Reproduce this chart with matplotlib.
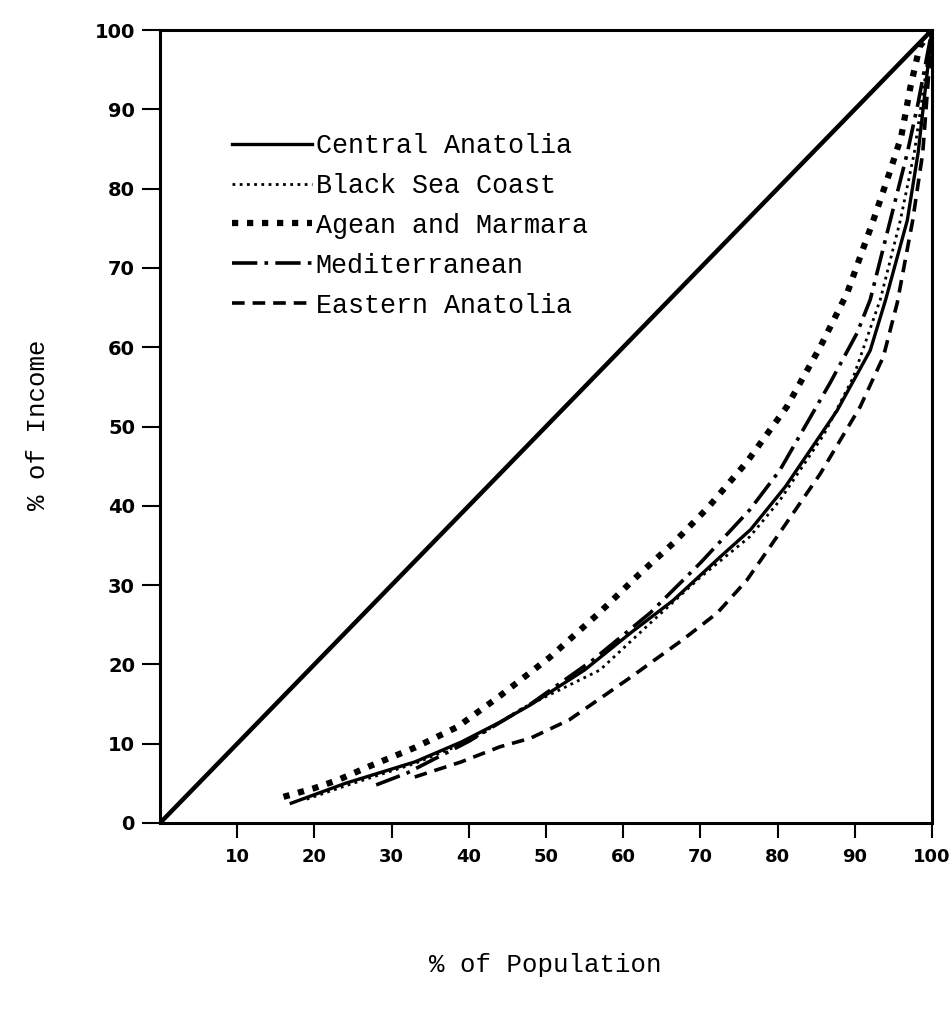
import matplotlib
matplotlib.use("Agg")
import matplotlib.pyplot as plt

# ---- data ----
equality_x = [0, 100]
equality_y = [0, 100]

central_x = [17, 24, 33, 39, 44, 48, 55, 61, 66.5, 72.5, 76.5, 81, 87.7, 92, 94, 96.8, 98.2, 100]
central_y = [2.5, 5, 7.7, 10.2, 12.7, 14.9, 19.3, 24, 28.1, 33.5, 37, 42.4, 52, 59.6, 66, 76, 84.5, 100]

blacksea_x = [19, 25, 33, 40, 47, 57, 63.5, 70, 76.4, 80.3, 86, 89.8, 93.3, 95.9, 97.7, 100]
blacksea_y = [3, 5, 7.5, 10.3, 14.5, 19.3, 25.2, 31, 36.1, 40.7, 49, 56.2, 66, 76, 84.5, 100]

agean_x = [16, 20, 23, 27, 33, 38.5, 44, 50.5, 57, 62, 66.5, 71, 76, 81.2, 85.5, 89, 92.4, 94.6, 96, 97.2, 98.4, 100]
agean_y = [3.3, 4.4, 5.4, 7.1, 9.5, 12.1, 16, 20.9, 26.6, 31.3, 35.3, 39.8, 45.5, 52.5, 60, 66.8, 76, 82.3, 86.5, 92.8, 97.9, 100]

medit_x = [28, 32, 40, 48, 56, 63.5, 70, 76.4, 80.3, 86.8, 90.3, 92, 94.6, 96.8, 98.2, 100]
medit_y = [4.8, 6.3, 10.3, 15, 20.5, 26.5, 32.8, 39.5, 44.5, 55.5, 61.8, 66, 76, 84.5, 90.8, 100]

eastern_x = [33, 39, 44, 48, 53, 61, 67.7, 72.2, 76, 79, 85.5, 90.7, 93.7, 95.5, 97.5, 98.8, 100]
eastern_y = [5.8, 7.7, 9.6, 10.7, 13, 18.4, 23.1, 26.5, 30.6, 34.8, 44, 52.5, 58.8, 65.6, 76, 84.5, 100]

labels = ["Central Anatolia", "Black Sea Coast", "Agean and Marmara", "Mediterranean", "Eastern Anatolia"]
x_ticks = [10, 20, 30, 40, 50, 60, 70, 80, 90, 100]
y_ticks = [0, 10, 20, 30, 40, 50, 60, 70, 80, 90, 100]

# ---- figure ----
fig = plt.figure(figsize=(9.49, 10.16), dpi=100)
ax = fig.add_axes([160/949, 1 - 823/1016, (932-160)/949, (823-30)/1016])

ax.plot(equality_x, equality_y, color="black", lw=3.2, solid_capstyle="round")
ax.plot(central_x, central_y, color="black", lw=2.4, label=labels[0])
ax.plot(blacksea_x, blacksea_y, color="black", lw=2.0, linestyle=(0, (1, 1.6)), label=labels[1])
ax.plot(agean_x, agean_y, color="black", lw=4.5, linestyle=(0, (1.0, 1.4)), label=labels[2])
ax.plot(medit_x, medit_y, color="black", lw=2.6, linestyle=(0, (7, 2, 1, 2)), label=labels[3])
ax.plot(eastern_x, eastern_y, color="black", lw=2.6, linestyle=(0, (3.5, 2.2)), label=labels[4])

ax.set_xlim(0, 100)
ax.set_ylim(0, 100)
ax.set_xticks(x_ticks)
ax.set_yticks(y_ticks)
ax.set_xticklabels([str(t) for t in x_ticks], fontweight="bold", fontsize=13, family="DejaVu Sans")
ax.set_yticklabels([str(t) for t in y_ticks], fontweight="bold", fontsize=14, family="DejaVu Sans")
ax.tick_params(axis="x", direction="out", length=11, width=1.5, pad=7)
ax.tick_params(axis="y", direction="out", length=13, width=1.5, pad=5)
for s in ax.spines.values():
    s.set_linewidth(2.2)

mono = "Liberation Mono"
fig.text(545/949, 1 - 965/1016, "% of Population", family=mono, fontsize=18.5, ha="center", va="center")
fig.text(38/949, 1 - 425/1016, "% of Income", family=mono, fontsize=18.5, ha="center", va="center", rotation=90)

leg = ax.legend(loc="upper left", bbox_to_anchor=(72/772, 1 - 103/793), frameon=False,
                prop={"family": mono, "size": 19.3}, handlelength=3.0, handletextpad=0.12,
                labelspacing=0.52, borderaxespad=0, borderpad=0)

fig.savefig("out.png", dpi=100)
